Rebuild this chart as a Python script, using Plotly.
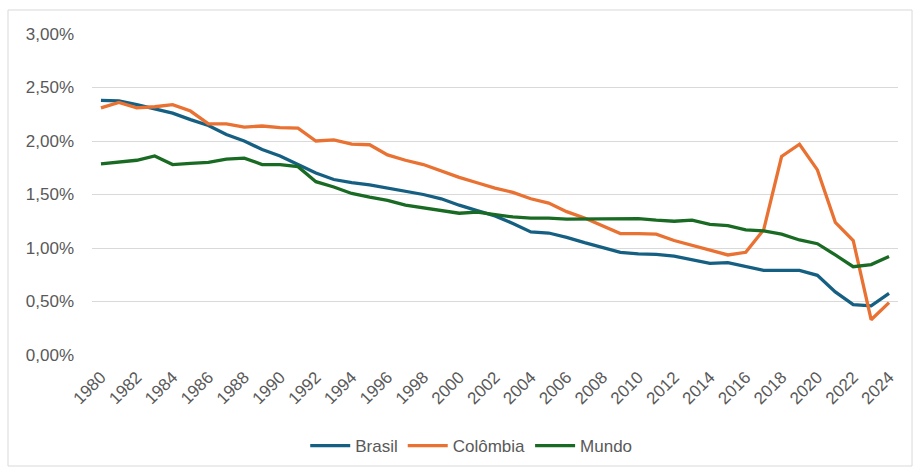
import plotly.graph_objects as go

years = list(range(1980, 2025))

brasil = [2.38, 2.375, 2.34, 2.30, 2.26, 2.20, 2.145, 2.06, 2.00, 1.92,
          1.86, 1.78, 1.70, 1.64, 1.61, 1.59, 1.56, 1.53, 1.50, 1.46,
          1.40, 1.35, 1.30, 1.23, 1.15, 1.14, 1.10, 1.05, 1.005, 0.96,
          0.945, 0.94, 0.925, 0.89, 0.857, 0.863, 0.83, 0.79, 0.79, 0.79,
          0.745, 0.59, 0.47, 0.46, 0.575]

colombia = [2.31, 2.36, 2.31, 2.32, 2.34, 2.28, 2.16, 2.16, 2.13, 2.14,
            2.125, 2.12, 2.00, 2.01, 1.97, 1.965, 1.87, 1.82, 1.78, 1.72,
            1.66, 1.61, 1.56, 1.52, 1.46, 1.42, 1.34, 1.28, 1.21, 1.135,
            1.134, 1.13, 1.07, 1.025, 0.975, 0.935, 0.96, 1.17, 1.855, 1.97,
            1.73, 1.24, 1.07, 0.33, 0.49]

mundo = [1.786, 1.80, 1.82, 1.86, 1.78, 1.79, 1.80, 1.83, 1.84, 1.78,
         1.78, 1.76, 1.62, 1.57, 1.51, 1.475, 1.445, 1.40, 1.375, 1.35,
         1.325, 1.335, 1.31, 1.29, 1.28, 1.28, 1.27, 1.27, 1.275, 1.275,
         1.275, 1.26, 1.25, 1.26, 1.22, 1.21, 1.17, 1.16, 1.13, 1.075,
         1.04, 0.935, 0.825, 0.845, 0.92]

series = [
    ("Brasil", brasil, "#156082"),
    ("Colômbia", colombia, "#E97132"),
    ("Mundo", mundo, "#196B24"),
]

fig = go.Figure()
for name, vals, color in series:
    fig.add_trace(go.Scatter(
        x=years, y=[v / 100 for v in vals], name=name, mode="lines",
        line=dict(color=color, width=3.3),
    ))

FONT = "Liberation Sans, Arial, sans-serif"

fig.update_layout(
    width=915, height=468,
    margin=dict(l=92, r=17, t=34, b=113, autoexpand=False),
    paper_bgcolor="white", plot_bgcolor="white",
    separators=",.",
    font=dict(family=FONT, size=16, color="#595959"),
    showlegend=True,
    legend=dict(orientation="h", xref="container", yref="container",
                x=0.515, xanchor="center", y=0.047, yanchor="middle",
                font=dict(family=FONT, size=17, color="#595959"),
                itemwidth=40, tracegroupgap=0),
    xaxis=dict(range=[1979.5, 2024.5], tickmode="array",
               tickvals=years[::2], ticktext=[str(y) for y in years[::2]],
               tickangle=-45, showgrid=False, zeroline=False, showline=False,
               ticks="", ticklabelstandoff=8, automargin=False,
               tickfont=dict(size=17, color="#595959")),
    yaxis=dict(range=[0, 0.03], dtick=0.005, tickformat=".2%",
               showgrid=True, gridcolor="#D9D9D9", gridwidth=1,
               zeroline=False, showline=False, ticks="",
               ticklabelstandoff=17, automargin=False,
               tickfont=dict(size=17, color="#595959")),
    shapes=[dict(type="rect", xref="paper", yref="paper",
                 x0=-0.1042, x1=1.0174, y0=-0.3458, y1=1.0748,
                 line=dict(color="#D9D9D9", width=1), layer="below")],
)

fig.write_html("out.html")
